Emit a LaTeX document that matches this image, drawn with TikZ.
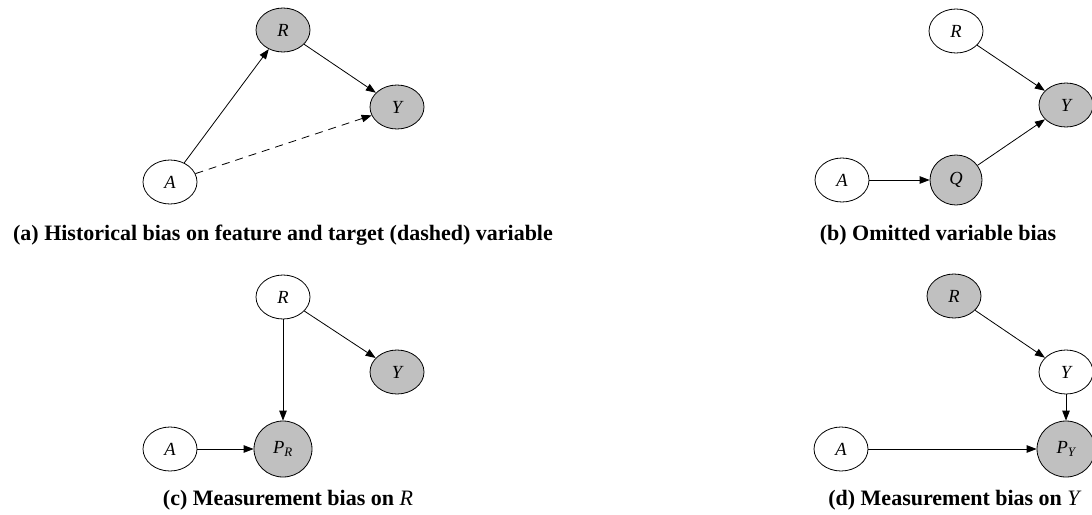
\documentclass[tikz,border=0pt]{standalone}
\usepackage{fontspec}
\setmainfont{Liberation Serif}
\usetikzlibrary{shapes.geometric,arrows.meta}
\definecolor{nodegray}{HTML}{C0C0C0}
\tikzset{
  var/.style={draw=black, line width=0.8pt, ellipse, inner sep=0pt, minimum width=54pt, minimum height=44pt, font=\fontsize{18.5}{22}\selectfont\itshape},
  obs/.style={var, fill=nodegray},
  big/.style={minimum width=58pt, minimum height=56pt},
  edge/.style={draw=black, line width=0.8pt, -{Triangle[length=10pt,width=7.5pt]}},
  dashededge/.style={edge, dash pattern=on 8pt off 6pt},
  captext/.style={font=\fontsize{22}{26}\selectfont\bfseries, anchor=base}
}
\begin{document}
\begin{tikzpicture}[x=1pt,y=-1pt]
\useasboundingbox (0,0) rectangle (1092,514);
% (a)
\node[obs] (aR) at (283,30) {R};
\node[obs] (aY) at (397,107) {Y};
\node[var] (aA) at (170,182) {A};
\draw[edge] (aA) -- (aR);
\draw[edge] (aR) -- (aY);
\draw[dashededge] (aA) -- (aY);
\node[captext] (capa) at (283,240) {(a) Historical bias on feature and target (dashed) variable};
% (b)
\node[var] (bR) at (956,31) {R};
\node[obs] (bY) at (1066,105) {Y};
\node[var] (bA) at (842,180) {A};
\node[obs, minimum width=52pt, minimum height=50pt] (bQ) at (956,180) {Q};
\draw[edge] (bR) -- (bY);
\draw[edge] (bA) -- (bQ);
\draw[edge] (bQ) -- (bY);
\node[captext] (capb) at (938,240) {(b) Omitted variable bias};
% (c)
\node[var] (cR) at (283,297) {R};
\node[obs] (cY) at (397,372) {Y};
\node[var] (cA) at (170,449) {A};
\node[obs, big] (cP) at (283,449) {P\textsubscript{R}};
\draw[edge] (cR) -- (cY);
\draw[edge] (cR) -- (cP);
\draw[edge] (cA) -- (cP);
\node[captext] (capc) at (288,505) {(c) Measurement bias on \textit{\mdseries R}};
% (d)
\node[obs] (dR) at (954,296) {R};
\node[var] (dY) at (1066,372) {Y};
\node[var] (dA) at (841,449) {A};
\node[obs, big] (dP) at (1066,449) {P\textsubscript{Y}};
\draw[edge] (dR) -- (dY);
\draw[edge] (dY) -- (dP);
\draw[edge] (dA) -- (dP);
\node[captext] (capd) at (955,505) {(d) Measurement bias on \textit{\mdseries Y}};
\end{tikzpicture}
\end{document}
